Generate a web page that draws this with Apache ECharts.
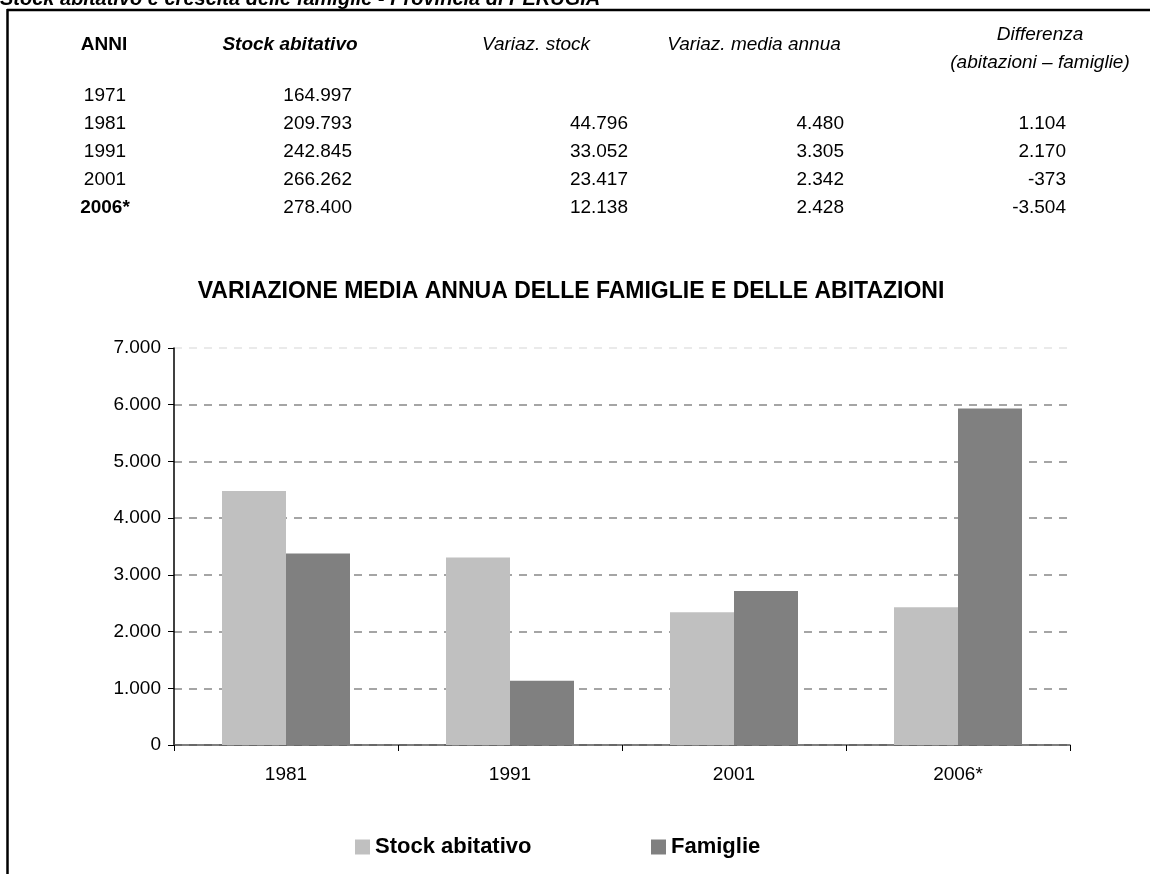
<!DOCTYPE html>
<html>
<head>
<meta charset="utf-8">
<title>Stock abitativo e crescita delle famiglie</title>
<script src="https://cdn.jsdelivr.net/npm/echarts@6/dist/echarts.min.js"></script>
<style>
  html, body { margin: 0; padding: 0; background: #fff; }
  #chart { width: 1150px; height: 874px; }
</style>
</head>
<body>
<div id="chart"></div>
<script>
  // table data
  const tableYears = ['1971', '1981', '1991', '2001', '2006*']
  const stockAbitativo = [164997, 209793, 242845, 266262, 278400]
  const variazStock = [null, 44796, 33052, 23417, 12138]
  const variazMediaAnnua = [null, 4480, 3305, 2342, 2428]
  const differenza = [null, 1104, 2170, -373, -3504]

  // chart data
  const categories = ['1981', '1991', '2001', '2006*']
  const stockSeries = [4480, 3305, 2342, 2428]
  const famiglieSeries = [3376, 1135, 2715, 5932]
  const yTicks = [0, 1000, 2000, 3000, 4000, 5000, 6000, 7000]

  const FONT = '"Liberation Sans", Arial, sans-serif'

  function fmt(v) {
    if (v === null || v === undefined) return ''
    const s = String(Math.abs(v)).replace(/\B(?=(\d{3})+(?!\d))/g, '.')
    return v < 0 ? '-' + s : s
  }

  function txt(x, y, text, opts) {
    opts = opts || {}
    return {
      type: 'text',
      x: x,
      y: y,
      silent: true,
      style: {
        text: text,
        fill: '#000',
        font: (opts.style || 'normal') + ' ' + (opts.weight || 'normal') + ' ' + (opts.size || 19) + 'px ' + FONT,
        align: opts.align || 'center',
        verticalAlign: opts.valign || 'middle'
      }
    }
  }

  const rowY = [96, 124, 152, 180, 208]
  const graphics = []

  // page title (cut at the top)
  graphics.push(txt(0, 9, 'Stock abitativo e crescita delle famiglie - Provincia di PERUGIA',
    { align: 'left', valign: 'bottom', style: 'italic', weight: 'bold', size: 20 }))
  // frame
  graphics.push({ type: 'line', silent: true, shape: { x1: 7, y1: 10, x2: 1150, y2: 10 }, style: { stroke: '#000', lineWidth: 2.5 } })
  graphics.push({ type: 'line', silent: true, shape: { x1: 7.5, y1: 9, x2: 7.5, y2: 874 }, style: { stroke: '#000', lineWidth: 2.5 } })

  // table header
  graphics.push(txt(104, 45, 'ANNI', { weight: 'bold' }))
  graphics.push(txt(290, 45, 'Stock abitativo', { weight: 'bold', style: 'italic' }))
  graphics.push(txt(536, 45, 'Variaz. stock', { style: 'italic' }))
  graphics.push(txt(754, 45, 'Variaz. media annua', { style: 'italic' }))
  graphics.push(txt(1040, 35, 'Differenza', { style: 'italic' }))
  graphics.push(txt(1040, 63, '(abitazioni \u2013 famiglie)', { style: 'italic' }))

  // table rows
  tableYears.forEach(function (yr, i) {
    const y = rowY[i]
    graphics.push(txt(105, y, yr, { weight: i === tableYears.length - 1 ? 'bold' : 'normal' }))
    graphics.push(txt(352, y, fmt(stockAbitativo[i]), { align: 'right' }))
    graphics.push(txt(628, y, fmt(variazStock[i]), { align: 'right' }))
    graphics.push(txt(844, y, fmt(variazMediaAnnua[i]), { align: 'right' }))
    graphics.push(txt(1066, y, fmt(differenza[i]), { align: 'right' }))
  })

  const chart = echarts.init(document.getElementById('chart'))

  const legendText = { fontFamily: FONT, fontSize: 22, fontWeight: 'bold', color: '#000' }

  const options = {
    animation: false,
    title: {
      text: 'VARIAZIONE MEDIA ANNUA DELLE FAMIGLIE E DELLE ABITAZIONI',
      left: 566,
      top: 275,
      textAlign: 'center',
      textStyle: { fontFamily: FONT, fontSize: 23, fontWeight: 'bold', color: '#000' }
    },
    grid: {
      left: 174,
      right: 80,
      top: 348,
      bottom: 129,
      containLabel: false
    },
    legend: [{
      data: ['Stock abitativo'],
      left: 350,
      top: 831,
      icon: 'rect',
      itemWidth: 15,
      itemHeight: 15,
      textStyle: legendText
    }, {
      data: ['Famiglie'],
      left: 646,
      top: 831,
      icon: 'rect',
      itemWidth: 15,
      itemHeight: 15,
      textStyle: legendText
    }],
    xAxis: {
      type: 'category',
      data: categories,
      axisLine: { lineStyle: { color: '#555', width: 1.5 } },
      axisTick: { show: true, length: 6, lineStyle: { color: '#000' } },
      axisLabel: { fontFamily: FONT, fontSize: 19, color: '#000', margin: 20 }
    },
    yAxis: {
      type: 'value',
      min: yTicks[0],
      max: yTicks[yTicks.length - 1],
      interval: 1000,
      axisLine: { show: true, lineStyle: { color: '#000', width: 1.5 } },
      axisTick: { show: true, length: 6, lineStyle: { color: '#000' } },
      axisLabel: { fontFamily: FONT, fontSize: 19, color: '#000', margin: 13, formatter: fmt },
      splitLine: {
        show: true,
        lineStyle: {
          color: ['#888', '#888', '#888', '#888', '#888', '#888', '#888', '#e4e4e4'],
          type: [8, 7],
          width: 1.5
        }
      }
    },
    series: [{
      name: 'Stock abitativo',
      type: 'bar',
      data: stockSeries,
      barWidth: 64,
      barGap: '0%',
      itemStyle: { color: '#c0c0c0' }
    }, {
      name: 'Famiglie',
      type: 'bar',
      data: famiglieSeries,
      barWidth: 64,
      barGap: '0%',
      itemStyle: { color: '#808080' }
    }],
    graphic: graphics
  }

  chart.setOption(options)
</script>
</body>
</html>
